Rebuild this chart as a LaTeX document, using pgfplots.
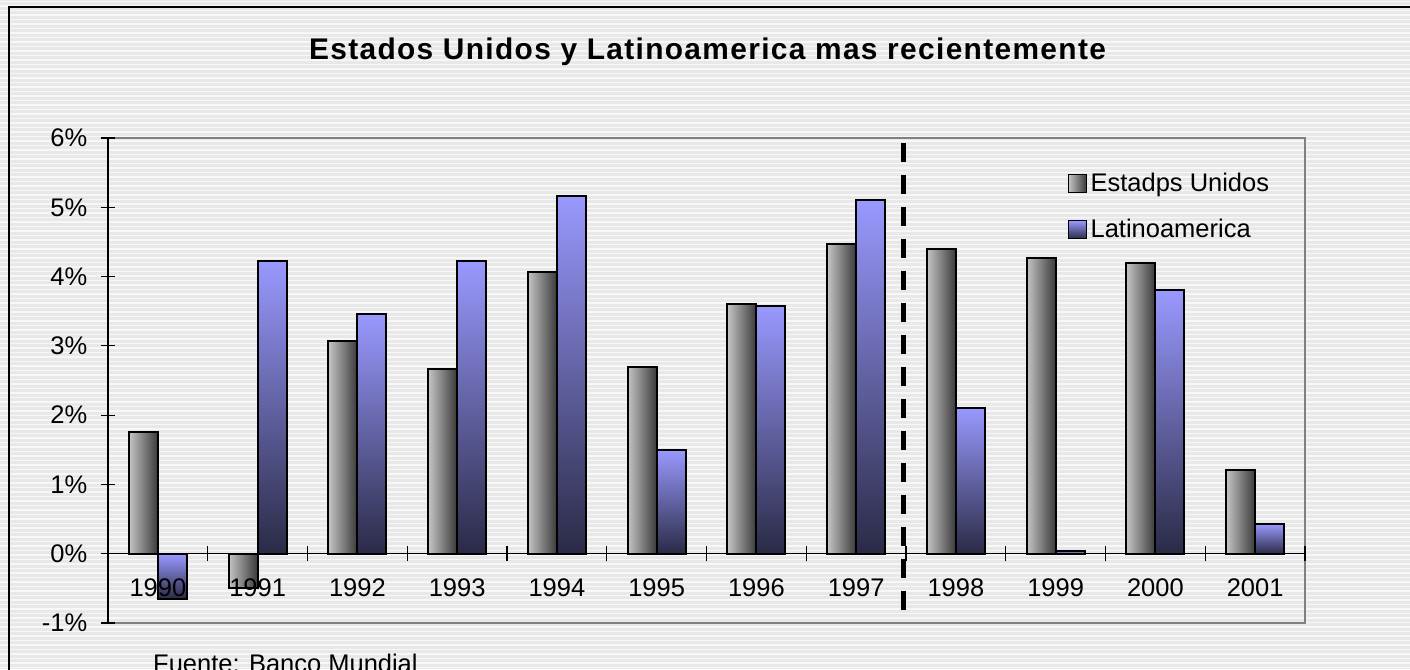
\documentclass[border=0pt]{standalone}
\usepackage{pgfplots}
\pgfplotsset{compat=1.18}
\usepackage{fontspec}
\setmainfont{Liberation Sans}
\definecolor{bgdark}{HTML}{E8E8E8}
\definecolor{bglight}{HTML}{F7F7F7}
\definecolor{usl}{HTML}{C4C4C4}
\definecolor{usd}{HTML}{3A3A3A}
\definecolor{lat}{HTML}{9999FF}
\definecolor{lab}{HTML}{2A2A46}
\definecolor{framegray}{HTML}{808080}
\pgfplotsset{
  usbar/.style={ybar, bar width=0.29, bar shift=-0.145, draw=black, line width=0.04cm, left color=usl, right color=usd},
  labar/.style={ybar, bar width=0.29, bar shift=0.145, draw=black, line width=0.04cm, top color=lat, bottom color=lab},
}
\begin{document}
\begin{tikzpicture}
\useasboundingbox (0,0) rectangle (28.2,13.38);
\fill[bgdark] (0,0) rectangle (28.2,13.38);
\foreach \i in {0,...,148} {\fill[bglight] (0,\i*0.09+0.02) rectangle (28.2,\i*0.09+0.05);}
\draw[line width=0.04cm] (0.18,-1) -- (0.18,13.24) -- (29,13.24);
\node[font=\fontsize{17}{20}\selectfont\bfseries\addfontfeature{LetterSpace=4.5}] at (14.15,12.34) {Estados Unidos y Latinoamerica mas recientemente};
\begin{axis}[
  at={(2.16cm,0.92cm)}, anchor=south west,
  width=23.94cm, height=9.7cm, scale only axis,
  xmin=-0.5, xmax=11.5, ymin=-1, ymax=6,
  clip=false, axis on top,
  axis x line=middle, axis y line=left,
  hide obscured x ticks=false,
  axis line style={-, black, line width=0.8pt},
  xtick={-0.5,0.5,...,11.5}, x tick label as interval,
  xticklabels={1990,1991,1992,1993,1994,1995,1996,1997,1998,1999,2000,2001},
  ytick={-1,0,...,6},
  yticklabels={-1\%,0\%,1\%,2\%,3\%,4\%,5\%,6\%},
  tick align=center, major tick length=0.3cm,
  tick style={black, line width=0.6pt},
  ticklabel style={font=\fontsize{14.5}{17}\selectfont},
  xticklabel style={anchor=center, yshift=-0.54cm},
  yticklabel style={xshift=-0.14cm},
  legend style={at={(0.797,0.943)}, anchor=north west, draw=none, fill=none,
    font=\fontsize{14.5}{17}\selectfont, row sep=0.36cm},
  legend cell align=left,
  legend image code/.code={\draw[#1, line width=0.03cm] (0cm,-0.18cm) rectangle (0.36cm,0.18cm);},
]
\addlegendimage{draw=black, left color=usl, right color=usd}
\addlegendentry{Estadps Unidos}
\addlegendimage{draw=black, top color=lat, bottom color=lab}
\addlegendentry{Latinoamerica}
% Estados Unidos
\addplot[usbar, forget plot] coordinates {(0,1.75)};
\addplot[usbar, forget plot] coordinates {(1,-0.50)};
\addplot[usbar, forget plot] coordinates {(2,3.07)};
\addplot[usbar, forget plot] coordinates {(3,2.67)};
\addplot[usbar, forget plot] coordinates {(4,4.07)};
\addplot[usbar, forget plot] coordinates {(5,2.70)};
\addplot[usbar, forget plot] coordinates {(6,3.61)};
\addplot[usbar, forget plot] coordinates {(7,4.47)};
\addplot[usbar, forget plot] coordinates {(8,4.40)};
\addplot[usbar, forget plot] coordinates {(9,4.27)};
\addplot[usbar, forget plot] coordinates {(10,4.20)};
\addplot[usbar, forget plot] coordinates {(11,1.21)};
% Latinoamerica
\addplot[labar, forget plot] coordinates {(0,-0.65)};
\addplot[labar, forget plot] coordinates {(1,4.23)};
\addplot[labar, forget plot] coordinates {(2,3.46)};
\addplot[labar, forget plot] coordinates {(3,4.23)};
\addplot[labar, forget plot] coordinates {(4,5.17)};
\addplot[labar, forget plot] coordinates {(5,1.50)};
\addplot[labar, forget plot] coordinates {(6,3.58)};
\addplot[labar, forget plot] coordinates {(7,5.11)};
\addplot[labar, forget plot] coordinates {(8,2.11)};
\addplot[labar, forget plot] coordinates {(9,0.04)};
\addplot[labar, forget plot] coordinates {(10,3.80)};
\addplot[labar, forget plot] coordinates {(11,0.43)};
\draw[framegray, line width=0.04cm] (rel axis cs:0,0) -- (rel axis cs:1,0) -- (rel axis cs:1,1) -- (rel axis cs:0,1);
\draw[line width=0.1cm, dash pattern=on 0.38cm off 0.26cm] (axis cs:7.47,5.93) -- (axis cs:7.47,-0.88);
\end{axis}
\node[anchor=base west, font=\fontsize{14.5}{17}\selectfont] at (2.94,-0.06) {Fuente: Banco Mundial};
\end{tikzpicture}
\end{document}
